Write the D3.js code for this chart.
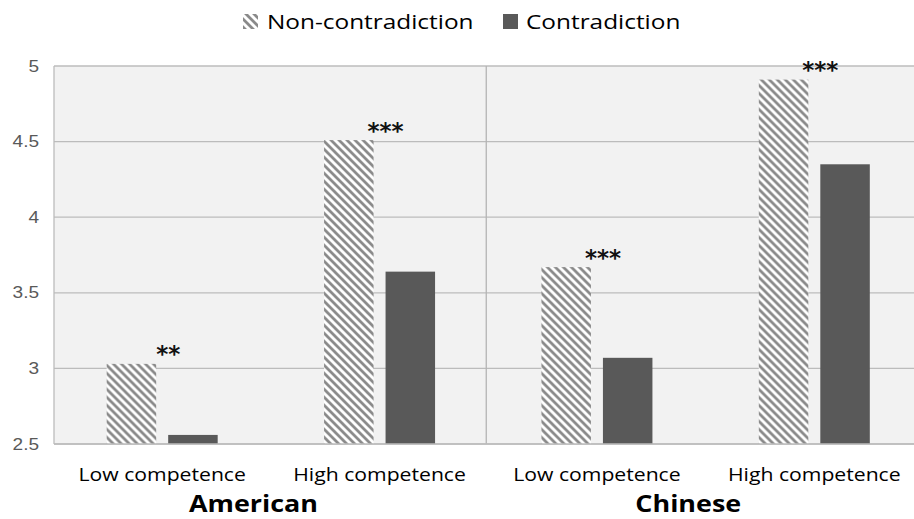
<!DOCTYPE html>
<html>
<head>
<meta charset="utf-8">
<script src="https://cdn.jsdelivr.net/npm/d3@7"></script>
<style>
  html, body { margin: 0; padding: 0; background: #fff; }
  svg { display: block; }
</style>
</head>
<body>
<svg id="chart" width="914" height="519"></svg>
<script>
// Mean ratings by culture and competence level, split by statement type
const groups = ["American", "Chinese"];
const categories = ["Low competence", "High competence", "Low competence", "High competence"];
const seriesNames = ["Non-contradiction", "Contradiction"];
const nonContradiction = [3.03, 4.51, 3.67, 4.91];
const contradiction = [2.56, 3.64, 3.07, 4.35];
const significance = ["**", "***", "***", "***"];
const yTicks = [2.5, 3, 3.5, 4, 4.5, 5];

const plot = { left: 54, right: 914, top: 66, bottom: 444 };
const svg = d3.select("#chart");

const labelFont = "'Open Sans', Lato, sans-serif";
const stretch = 1.19; // the whole figure is drawn slightly wide

// Downward diagonal hatch for the non-contradiction series
const defs = svg.append("defs");
const pat = defs.append("pattern")
  .attr("id", "hatch")
  .attr("patternUnits", "userSpaceOnUse")
  .attr("width", 8).attr("height", 8);
pat.append("rect").attr("width", 8).attr("height", 8).attr("fill", "#ffffff");
pat.append("path")
  .attr("d", "M-4,-4 L12,12 M-4,4 L4,12 M4,-4 L12,4")
  .attr("stroke", "#8a8a8a").attr("stroke-width", 2.8);

// Scales
const x = d3.scaleBand()
  .domain(d3.range(categories.length))
  .range([53.5, 923])
  .padding(0);

const inner = d3.scaleBand()
  .domain(seriesNames)
  .range([0, x.bandwidth()])
  .paddingInner(0.195)
  .paddingOuter(0.865);

const y = d3.scaleLinear().domain([2.5, 5]).range([plot.bottom, plot.top]);

// Plot background
svg.append("rect")
  .attr("x", plot.left).attr("y", plot.top)
  .attr("width", plot.right - plot.left).attr("height", plot.bottom - plot.top)
  .attr("fill", "#f2f2f2");

// Horizontal gridlines
svg.append("g").selectAll("line")
  .data(yTicks)
  .join("line")
  .attr("x1", plot.left).attr("x2", plot.right)
  .attr("y1", d => y(d)).attr("y2", d => y(d))
  .attr("stroke", "#bcbcbc").attr("stroke-width", 1.3);

// Left axis line and group divider
svg.append("line")
  .attr("x1", plot.left).attr("x2", plot.left)
  .attr("y1", plot.top).attr("y2", plot.bottom)
  .attr("stroke", "#bcbcbc").attr("stroke-width", 1.3);
svg.append("line")
  .attr("x1", x(2) - 2).attr("x2", x(2) - 2)
  .attr("y1", plot.top).attr("y2", plot.bottom)
  .attr("stroke", "#b4b4b4").attr("stroke-width", 1.3);

// Y axis tick labels
const yAxis = d3.axisLeft(y).tickValues(yTicks).tickSize(0).tickPadding(0)
  .tickFormat(d3.format("~g"));
const yg = svg.append("g")
  .attr("transform", `translate(${plot.left - 15},0)`)
  .call(yAxis);
yg.select(".domain").remove();
yg.selectAll("text")
  .attr("font-family", "'Liberation Sans', Arial, sans-serif")
  .attr("font-size", 16)
  .attr("fill", "#595959")
  .attr("transform", `scale(${stretch},1)`);

// Bars
const rows = categories.map((c, i) => ({
  i,
  values: [
    { key: seriesNames[0], v: nonContradiction[i] },
    { key: seriesNames[1], v: contradiction[i] }
  ]
}));

const cat = svg.append("g").selectAll("g")
  .data(rows)
  .join("g")
  .attr("transform", d => `translate(${x(d.i)},0)`);

cat.selectAll("rect")
  .data(d => d.values)
  .join("rect")
  .attr("x", d => inner(d.key))
  .attr("width", inner.bandwidth())
  .attr("y", d => y(d.v))
  .attr("height", d => y(2.5) - y(d.v))
  .attr("fill", d => d.key === seriesNames[0] ? "url(#hatch)" : "#595959");

// Bottom axis line drawn over bar bases
svg.append("line")
  .attr("x1", plot.left).attr("x2", plot.right)
  .attr("y1", plot.bottom).attr("y2", plot.bottom)
  .attr("stroke", "#bcbcbc").attr("stroke-width", 1.5);

// Significance stars
cat.append("text")
  .attr("x", inner(seriesNames[1]))
  .attr("y", d => y(nonContradiction[d.i]) - 1.5)
  .attr("text-anchor", "middle")
  .attr("font-family", "'DejaVu Sans', sans-serif")
  .attr("font-weight", "bold")
  .attr("font-size", 23)
  .attr("fill", "#111")
  .text(d => significance[d.i]);

// Category labels
svg.append("g").selectAll("text")
  .data(categories)
  .join("text")
  .attr("transform", (d, i) => `translate(${x(i) + x.bandwidth() / 2},481) scale(${stretch},1)`)
  .attr("text-anchor", "middle")
  .attr("font-family", labelFont)
  .attr("font-size", 17.8)
  .attr("fill", "#000")
  .text(d => d);

// Group labels
svg.append("g").selectAll("text")
  .data(groups)
  .join("text")
  .attr("transform", (d, i) => `translate(${x(i * 2) + x.bandwidth() * 0.92},512) scale(${stretch},1)`)
  .attr("text-anchor", "middle")
  .attr("font-family", labelFont)
  .attr("font-weight", "bold")
  .attr("font-size", 22.6)
  .attr("fill", "#000")
  .text(d => d);

// Legend
const legend = svg.append("g");
const legendItems = [
  { name: seriesNames[0], fill: "url(#hatch)", sx: 243, tx: 267 },
  { name: seriesNames[1], fill: "#595959", sx: 503, tx: 526 }
];
legend.selectAll("rect")
  .data(legendItems)
  .join("rect")
  .attr("x", d => d.sx).attr("y", 14)
  .attr("width", 15).attr("height", 15)
  .attr("fill", d => d.fill);
legend.selectAll("text")
  .data(legendItems)
  .join("text")
  .attr("transform", d => `translate(${d.tx},29) scale(${stretch},1)`)
  .attr("font-family", labelFont)
  .attr("font-size", 20.5)
  .attr("fill", "#000")
  .text(d => d.name);
</script>
</body>
</html>
